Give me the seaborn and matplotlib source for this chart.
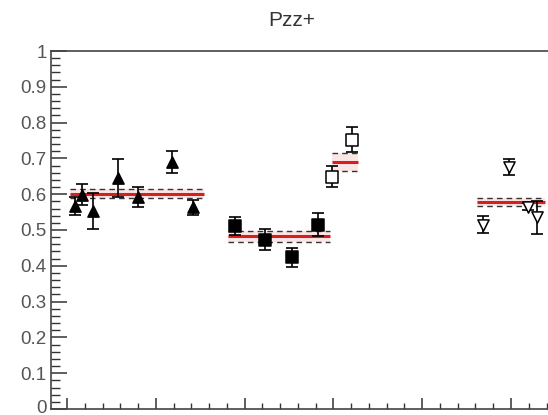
import matplotlib
matplotlib.use("Agg")
import matplotlib.pyplot as plt
from matplotlib.ticker import MultipleLocator, FuncFormatter
from matplotlib.transforms import ScaledTranslation
import numpy as np
import pandas as pd
import seaborn as sns

# Measurements, four data sets (x in bin units, value, uncertainty)
g1_x = [0.45, 0.84, 1.46, 2.87, 4.0, 5.91, 7.09]
g1_y = [0.566, 0.599, 0.554, 0.644, 0.593, 0.690, 0.563]
g1_err = [0.025, 0.030, 0.050, 0.053, 0.028, 0.030, 0.020]

g2_x = [9.46, 11.15, 12.67, 14.13]
g2_y = [0.510, 0.473, 0.424, 0.515]
g2_err = [0.025, 0.030, 0.027, 0.032]

g3_x = [14.92, 16.05]
g3_y = [0.649, 0.752]
g3_err = [0.030, 0.035]

g4_x = [23.42, 24.89, 25.96, 26.46]
g4_y = [0.515, 0.675, 0.565, 0.535]
g4_err = [0.024, 0.022, 0.010, 0.045]

# Constant fits per data set: value, uncertainty, x range
fit_val = [0.601, 0.482, 0.690, 0.577]
fit_err = [0.013, 0.015, 0.024, 0.011]
fit_lo = [0.17, 9.07, 14.92, 23.09]
fit_hi = [7.71, 14.80, 16.38, 26.90]

title = "Pzz+"

sns.set_theme(style="white")
plt.rcParams["font.family"] = ["Liberation Sans", "DejaVu Sans"]

W, H = 548, 415
fig = plt.figure(figsize=(W / 100, H / 100), dpi=100)
ax = fig.add_axes([51 / W, 6 / H, 509 / W, 358 / H])

# Fit bands and lines
for v, e, lo, hi in zip(fit_val, fit_err, fit_lo, fit_hi):
    ax.fill_between([lo, hi], v - e, v + e, color="#f4b6b6", alpha=0.35,
                    lw=0, zorder=1)
    ax.hlines([v - e, v + e], lo, hi, colors="#333333", linestyles=(0, (4, 3)),
              lw=1.0, zorder=2)
    ax.hlines(v, lo, hi, colors="#d62020", lw=2.2, zorder=3)

groups = [
    (g1_x, g1_y, g1_err, "^", "black"),
    (g2_x, g2_y, g2_err, "s", "black"),
    (g3_x, g3_y, g3_err, "s", "white"),
    (g4_x, g4_y, g4_err, "v", "white"),
]

for x, y, err, mk, fc in groups:
    ax.errorbar(x, y, yerr=err, fmt="none", ecolor="black", elinewidth=1.2,
                capsize=4, capthick=1.2, zorder=4)
    df = pd.DataFrame({"x": x, "y": y})
    sns.scatterplot(data=df, x="x", y="y", marker=mk, s=65, color=fc,
                    edgecolor="black", linewidth=1.1, ax=ax, zorder=5,
                    legend=False)

ax.set_xlim(-0.9, 27.76)
ax.set_ylim(0, 1)
ax.set_xlabel("")
ax.set_ylabel("")

ax.xaxis.set_major_locator(MultipleLocator(5))
ax.xaxis.set_minor_locator(MultipleLocator(1))
ax.yaxis.set_major_locator(MultipleLocator(0.1))
ax.yaxis.set_minor_locator(MultipleLocator(0.02))
ax.yaxis.set_major_formatter(FuncFormatter(lambda v, p: f"{v:g}"))
ax.set_xticklabels([])

ax.tick_params(axis="y", which="major", direction="in", length=11.5, width=1.1,
               color="#333333", labelsize=13.5, labelcolor="#555555", pad=3,
               left=True)
ax.tick_params(axis="y", which="minor", direction="in", length=6.5, width=1.0,
               color="#333333", left=True)
ax.tick_params(axis="x", which="major", direction="in", length=8, width=1.1,
               color="#333333", bottom=True, labelbottom=False)
ax.tick_params(axis="x", which="minor", direction="in", length=4.3, width=1.0,
               color="#333333", bottom=True)

# keep the bottom "0" label inside the canvas
fig.canvas.draw()
for lbl in ax.get_yticklabels():
    if lbl.get_text() == "0":
        lbl.set_transform(lbl.get_transform()
                          + ScaledTranslation(0, 3 / 100, fig.dpi_scale_trans))

for side in ["left", "bottom", "top"]:
    ax.spines[side].set_visible(True)
    ax.spines[side].set_color("#444444")
    ax.spines[side].set_linewidth(1.2)
ax.spines["right"].set_visible(False)

fig.text(292 / W, 1 - 21 / H, title, ha="center", va="center",
         fontsize=15, color="#333333")

fig.savefig("out.png", dpi=100, facecolor="white")
